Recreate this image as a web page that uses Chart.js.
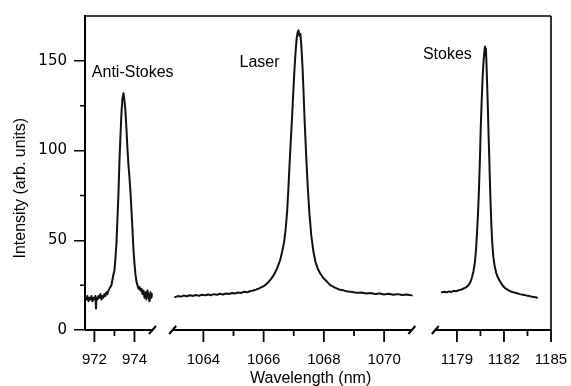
<!DOCTYPE html>
<html><head><meta charset="utf-8">
<script src="https://cdn.jsdelivr.net/npm/chart.js@4/dist/chart.umd.min.js"></script>
<style>html,body{margin:0;padding:0;background:#fff}</style>
</head><body>
<canvas id="c" width="571" height="386"></canvas>
<script>
// ---- data ----
const antiStokesWl = [971.55,971.6,971.65,971.7,971.75,971.8,971.85,971.9,971.95,972.0,972.05,972.08,972.1,972.15,972.2,972.25,972.3,972.35,972.4,972.45,972.5,972.55,972.6,972.65,972.7,972.75,972.8,972.85,972.9,972.95,973.0,973.05,973.1,973.15,973.2,973.25,973.3,973.35,973.4,973.45,973.5,973.55,973.6,973.65,973.7,973.75,973.8,973.85,973.9,973.95,974.0,974.05,974.1,974.15,974.2,974.25,974.3,974.35,974.4,974.45,974.5,974.55,974.6,974.65,974.7,974.75,974.8,974.85,974.87];
const antiStokesInt = [18,17,19,16,18,17,19,16,18,17,19,12,18,17,19,18,20,17,19,18,20,19,21,20,22,23,24,25,28,31,33,40,48,62,76,94,108,121,129,132,128,122,112,101,92,85,77,67,56,45,37,31,27,25,23,24,22,23,20,22,18,21,17,22,19,16,21,18,20];

const laserWl = [1063.06,1063.15,1063.25,1063.35,1063.45,1063.55,1063.65,1063.75,1063.85,1063.95,1064.05,1064.15,1064.25,1064.35,1064.45,1064.55,1064.65,1064.75,1064.85,1064.95,1065.05,1065.15,1065.25,1065.35,1065.45,1065.55,1065.65,1065.75,1065.85,1065.95,1066.05,1066.15,1066.25,1066.35,1066.45,1066.55,1066.62,1066.68,1066.73,1066.78,1066.82,1066.86,1066.9,1066.94,1066.98,1067.02,1067.06,1067.1,1067.13,1067.16,1067.19,1067.22,1067.25,1067.29,1067.32,1067.36,1067.41,1067.46,1067.52,1067.58,1067.65,1067.72,1067.8,1067.88,1067.98,1068.1,1068.21,1068.35,1068.5,1068.65,1068.8,1068.95,1069.1,1069.25,1069.4,1069.55,1069.7,1069.85,1070.0,1070.15,1070.3,1070.45,1070.6,1070.75,1070.92];
const laserInt = [18.3,18.9,18.6,19.2,18.8,19.4,19.0,19.5,19.1,19.7,19.3,19.8,19.4,20.0,19.6,20.2,19.8,20.4,20.1,20.6,20.3,20.9,20.6,21.3,21.0,21.6,22.0,22.5,23.2,24.0,25.0,26.5,28.5,31,34.5,39,44,49,56,66,78,92,105,117,131,144,155,163,166,167,164,165,159,147,135,117,98,81,65,53,44,38,34,31.5,29,27,25,23.8,22.6,22.1,21.4,21.2,20.7,20.9,20.3,20.6,20.0,20.4,19.8,20.2,19.6,20.0,19.5,19.8,19.3];

const stokesWl = [1178.04,1178.2,1178.35,1178.5,1178.65,1178.8,1178.95,1179.1,1179.25,1179.4,1179.55,1179.7,1179.85,1179.95,1180.05,1180.15,1180.22,1180.28,1180.34,1180.4,1180.46,1180.52,1180.58,1180.64,1180.7,1180.75,1180.79,1180.82,1180.85,1180.89,1180.93,1180.98,1181.02,1181.06,1181.1,1181.15,1181.2,1181.25,1181.32,1181.4,1181.5,1181.6,1181.75,1181.9,1182.05,1182.2,1182.4,1182.6,1182.8,1183.0,1183.2,1183.4,1183.6,1183.8,1184.0,1184.11];
const stokesInt = [21.0,21.3,21.0,21.5,21.2,21.8,21.6,22.1,22.4,23.0,23.6,24.6,26.5,29,32.5,38,45,54,64,77,93,113,128,141,150,155,158,153,157,147,136,122,108,97,84,70,58,49,41,36,32,29.5,27,25,23.5,22.6,21.6,21.0,20.6,20.0,19.7,19.3,19.0,18.5,18.3,18.0];

// tick values
const yTickValues = [0, 50, 100, 150];
const yMinorTickValues = [25, 75, 125];
const seg1Ticks = [972, 974], seg1Minor = [973];
const seg2Ticks = [1064, 1066, 1068, 1070], seg2Minor = [1065, 1067, 1069];
const seg3Ticks = [1179, 1182, 1185], seg3Minor = [1180.5, 1183.5];

// text
const peakLabels = ['Anti-Stokes', 'Laser', 'Stokes'];
const xTitle = 'Wavelength (nm)';
const yTitle = 'Intensity (arb. units)';

// ---- axis break layout (scale ranges) ----
const segments = [
  {axis:'x1', from:971.53, to:974.9,  major:seg1Ticks, minor:seg1Minor, breakStart:false, breakEnd:true},
  {axis:'x2', from:1062.98, to:1070.92, major:seg2Ticks, minor:seg2Minor, breakStart:true, breakEnd:true},
  {axis:'x3', from:1177.62, to:1185,  major:seg3Ticks, minor:seg3Minor, breakStart:true, breakEnd:false}
];
const labelAnchors = [
  {axis:'x1', x:971.87, y:140.8},
  {axis:'x2', x:1065.2, y:146.7},
  {axis:'x3', x:1176.83, y:151.3}
];

const FONT = '"Liberation Sans", Arial, Helvetica, sans-serif';
const INK = '#000';

const brokenAxisPlugin = {
  id: 'brokenAxis',
  afterDraw(chart) {
    const ctx = chart.ctx, ca = chart.chartArea, ys = chart.scales.y;
    ctx.save();
    ctx.strokeStyle = INK; ctx.fillStyle = INK; ctx.lineCap = 'butt';
    // frame top and right
    ctx.lineWidth = 1.6;
    ctx.beginPath();
    ctx.moveTo(ca.left, ca.top); ctx.lineTo(ca.right, ca.top);
    ctx.moveTo(ca.right, ca.top); ctx.lineTo(ca.right, ca.bottom);
    ctx.stroke();
    // y minor ticks
    ctx.lineWidth = 1.5;
    ctx.beginPath();
    yMinorTickValues.forEach(v => { const p = ys.getPixelForValue(v); ctx.moveTo(ca.left - 5, p); ctx.lineTo(ca.left, p); });
    ctx.stroke();
    // x axis segments
    const yb = ca.bottom;
    ctx.font = '15px ' + FONT; ctx.textAlign = 'center'; ctx.textBaseline = 'alphabetic';
    segments.forEach(sg => {
      const s = chart.scales[sg.axis];
      const a = Math.max(ca.left, s.getPixelForValue(sg.from));
      const b = Math.min(ca.right, s.getPixelForValue(sg.to));
      ctx.lineWidth = 1.8;
      ctx.beginPath(); ctx.moveTo(a, yb); ctx.lineTo(b, yb); ctx.stroke();
      ctx.beginPath();
      sg.major.forEach(v => { const p = s.getPixelForValue(v); ctx.moveTo(p, yb); ctx.lineTo(p, yb + 12); });
      sg.minor.forEach(v => { const p = s.getPixelForValue(v); ctx.moveTo(p, yb); ctx.lineTo(p, yb + 6); });
      ctx.stroke();
      sg.major.forEach(v => { ctx.fillText(String(v), s.getPixelForValue(v), yb + 34); });
      ctx.lineWidth = 2;
      ctx.beginPath();
      if (sg.breakStart) { ctx.moveTo(a - 3.5, yb + 4); ctx.lineTo(a + 3.5, yb - 4); }
      if (sg.breakEnd) { ctx.moveTo(b - 3.5, yb + 4); ctx.lineTo(b + 3.5, yb - 4); }
      ctx.stroke();
    });
    // x title
    ctx.font = '16px ' + FONT;
    ctx.fillText(xTitle, chart.scales.x2.getPixelForValue(1067.56), yb + 53);
    // y title
    ctx.save();
    ctx.translate(21, ys.getPixelForValue(79));
    ctx.rotate(-Math.PI / 2);
    ctx.textAlign = 'center'; ctx.textBaseline = 'middle';
    ctx.fillText(yTitle, 0, 0);
    ctx.restore();
    // peak labels
    ctx.font = '16px ' + FONT; ctx.textAlign = 'left'; ctx.textBaseline = 'alphabetic';
    labelAnchors.forEach((l, i) => {
      ctx.fillText(peakLabels[i], chart.scales[l.axis].getPixelForValue(l.x), ys.getPixelForValue(l.y));
    });
    ctx.restore();
  }
};

const mk = (xs, ys) => xs.map((x, i) => ({x, y: ys[i]}));
const lineStyle = {borderColor: '#111', borderWidth: 2, borderJoinStyle: 'round', borderCapStyle: 'round', pointRadius: 0, tension: 0.0001, fill: false};

new Chart(document.getElementById('c'), {
  type: 'line',
  data: {
    datasets: [
      Object.assign({label: peakLabels[0], data: mk(antiStokesWl, antiStokesInt), xAxisID: 'x1', yAxisID: 'y'}, lineStyle),
      Object.assign({label: peakLabels[1], data: mk(laserWl, laserInt), xAxisID: 'x2', yAxisID: 'y'}, lineStyle),
      Object.assign({label: peakLabels[2], data: mk(stokesWl, stokesInt), xAxisID: 'x3', yAxisID: 'y'}, lineStyle)
    ]
  },
  options: {
    responsive: false, animation: false, devicePixelRatio: 1,
    layout: {padding: {top: 14, right: 20, bottom: 56, left: 0}},
    plugins: {legend: {display: false}, tooltip: {enabled: false}},
    scales: {
      x1: {type: 'linear', display: false, min: 971.53, max: 994.8},
      x2: {type: 'linear', display: false, min: 1060.07, max: 1075.54},
      x3: {type: 'linear', display: false, min: 1155.28, max: 1185},
      y: {
        type: 'linear', position: 'left', min: 0, max: 175,
        afterFit(s) { s.width = 85; },
        afterBuildTicks(s) { s.ticks = yTickValues.map(v => ({value: v})); },
        grid: {display: true, drawOnChartArea: false, drawTicks: true, tickLength: 11, color: INK, lineWidth: 1.5},
        border: {display: true, color: INK, width: 2},
        ticks: {color: INK, padding: 7, font: {family: '"DejaVu Sans", ' + FONT, size: 15}}
      }
    }
  },
  plugins: [brokenAxisPlugin]
});
</script>
</body></html>
